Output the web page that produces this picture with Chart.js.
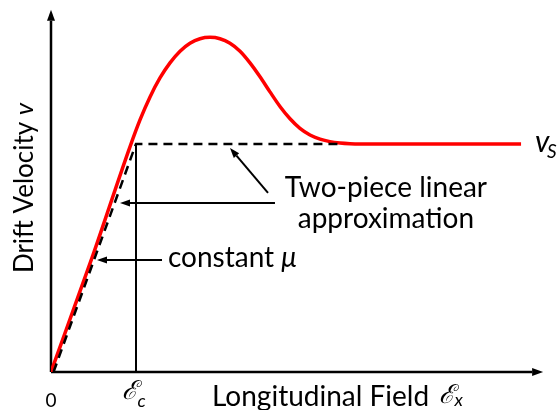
<!DOCTYPE html>
<html>
<head>
<meta charset="utf-8">
<script src="https://cdn.jsdelivr.net/npm/chart.js@4/dist/chart.umd.min.js"></script>
<style>
  body { margin: 0; background: #fff; }
  #drift-chart { display: block; }
</style>
</head>
<body>
<canvas id="drift-chart" width="560" height="410"></canvas>
<script>
// Field axis in units of the critical field Ec, velocity in units of vs
const curveField = [0, 0.482, 0.929, 1.047, 1.165, 1.282, 1.4, 1.518, 1.635, 1.753, 1.871, 1.988, 2.106, 2.224, 2.341, 2.459, 2.576, 2.694, 2.812, 2.929, 3.047, 3.165, 3.282, 3.4, 3.518, 3.635, 5.53];
const curveVelocity = [0, 0.5, 0.987, 1.105, 1.206, 1.289, 1.355, 1.406, 1.441, 1.461, 1.467, 1.461, 1.441, 1.406, 1.355, 1.294, 1.228, 1.164, 1.11, 1.068, 1.039, 1.021, 1.01, 1.004, 1.001, 1.0, 1.0];

// Two-piece linear approximation: mobility line up to Ec, then saturation
const approxField = [0.03, 1, 3.4];
const approxVelocity = [0, 1, 1];

// Marker at the critical field
const criticalField = [1, 1];
const criticalVelocity = [0, 1];

// Axis extents (arrow tips)
const fieldMax = 5.8;
const velocityMax = 1.6;
const xArrowTip = 5.79;
const yArrowTip = 1.588;

// Callout arrows: [fromX, fromY, toX, toY]
const callouts = [
  [2.553, 0.785, 2.106, 0.982],
  [2.635, 0.741, 0.812, 0.741],
  [1.306, 0.491, 0.541, 0.491],
];

const toPoints = (xs, ys) => xs.map((x, i) => ({ x: x, y: ys[i] }));

function drawArrow(ctx, x1, y1, x2, y2, len, half) {
  const a = Math.atan2(y2 - y1, x2 - x1);
  const bx = x2 - len * Math.cos(a);
  const by = y2 - len * Math.sin(a);
  ctx.beginPath();
  ctx.moveTo(x1, y1);
  ctx.lineTo(bx, by);
  ctx.stroke();
  ctx.beginPath();
  ctx.moveTo(x2, y2);
  ctx.lineTo(bx + half * Math.sin(a), by - half * Math.cos(a));
  ctx.lineTo(bx - half * Math.sin(a), by + half * Math.cos(a));
  ctx.closePath();
  ctx.fill();
}

// Draws the arrowed axes underneath the curves
const axesPlugin = {
  id: "arrowAxes",
  beforeDatasetsDraw(chart) {
    const ctx = chart.ctx;
    const xs = chart.scales.x;
    const ys = chart.scales.y;
    const x0 = xs.getPixelForValue(0);
    const y0 = ys.getPixelForValue(0);
    ctx.save();
    ctx.strokeStyle = "#000";
    ctx.fillStyle = "#000";
    ctx.lineWidth = 2.5;
    drawArrow(ctx, x0, y0, xs.getPixelForValue(xArrowTip), y0, 11, 4);
    drawArrow(ctx, x0, y0, x0, ys.getPixelForValue(yArrowTip), 11, 4);
    ctx.restore();
  },
};

// Callouts and all text labels
const labelPlugin = {
  id: "labels",
  afterDatasetsDraw(chart) {
    const ctx = chart.ctx;
    const xs = chart.scales.x;
    const ys = chart.scales.y;
    const px = (v) => xs.getPixelForValue(v);
    const py = (v) => ys.getPixelForValue(v);
    const sans = '"Lato", "Open Sans", sans-serif';
    const script = '"DejaVu Serif", serif';

    ctx.save();
    ctx.strokeStyle = "#000";
    ctx.fillStyle = "#000";
    ctx.lineWidth = 2;
    callouts.forEach((c) => {
      drawArrow(ctx, px(c[0]), py(c[1]), px(c[2]), py(c[3]), 10, 3.5);
    });

    ctx.fillStyle = "#000";
    ctx.textBaseline = "alphabetic";

    // callout text
    ctx.font = "28px " + sans;
    ctx.textAlign = "center";
    ctx.fillText("Two-piece linear", px(3.94), py(0.768));
    ctx.fillText("approximation", px(3.94), py(0.632));

    ctx.textAlign = "left";
    ctx.font = "28px " + sans;
    const cx = px(1.376);
    const cy = py(0.461);
    ctx.fillText("constant ", cx, cy);
    const cw = ctx.measureText("constant ").width;
    ctx.font = "italic 28px " + sans;
    ctx.fillText("\u03bc", cx + cw, cy);

    // saturation velocity
    ctx.font = "italic 30px " + sans;
    ctx.fillText("v", px(5.694), py(0.965));
    ctx.font = "italic 19px " + sans;
    ctx.fillText("S", px(5.694) + 12, py(0.965) + 6);

    // x axis labels
    ctx.font = "28px " + sans;
    ctx.fillText("Longitudinal Field", px(1.894), py(-0.149));
    ctx.font = "italic 26px " + script;
    ctx.fillText("\u2130", px(4.56), py(-0.135));
    ctx.font = "italic 18px " + sans;
    ctx.fillText("x", px(4.56) + 16, py(-0.15));

    ctx.font = "italic 26px " + script;
    ctx.fillText("\u2130", px(0.83), py(-0.118));
    ctx.font = "italic 18px " + sans;
    ctx.fillText("c", px(0.83) + 16, py(-0.154));

    ctx.textAlign = "center";
    ctx.font = "19px " + sans;
    ctx.fillText("0", px(0), py(-0.154));

    // y axis label, rotated
    ctx.save();
    ctx.translate(px(-0.212), py(0.807));
    ctx.rotate(-Math.PI / 2);
    const main = "Drift Velocity ";
    ctx.font = "26px " + sans;
    const mw = ctx.measureText(main).width;
    ctx.font = "italic 26px " + sans;
    const vw = ctx.measureText("v").width;
    const start = -(mw + vw) / 2;
    ctx.textAlign = "left";
    ctx.font = "26px " + sans;
    ctx.fillText(main, start, 0);
    ctx.font = "italic 26px " + sans;
    ctx.fillText("v", start + mw, 0);
    ctx.restore();

    ctx.restore();
  },
};

new Chart(document.getElementById("drift-chart"), {
  type: "line",
  data: {
    datasets: [
      {
        label: "Drift velocity",
        data: toPoints(curveField, curveVelocity),
        borderColor: "#ff0000",
        borderWidth: 3.5,
        pointRadius: 0,
        cubicInterpolationMode: "monotone",
        fill: false,
        order: 2,
      },
      {
        label: "Two-piece linear approximation",
        data: toPoints(approxField, approxVelocity),
        borderColor: "#000",
        borderWidth: 2.5,
        borderDash: [9, 6],
        pointRadius: 0,
        tension: 0,
        fill: false,
        order: 1,
      },
      {
        label: "Critical field",
        data: toPoints(criticalField, criticalVelocity),
        borderColor: "#000",
        borderWidth: 2,
        pointRadius: 0,
        tension: 0,
        fill: false,
        order: 3,
      },
    ],
  },
  options: {
    responsive: false,
    animation: false,
    layout: { padding: { left: 51, right: 16, top: 7, bottom: 38 } },
    scales: {
      x: { type: "linear", min: 0, max: fieldMax, display: false },
      y: { type: "linear", min: 0, max: velocityMax, display: false },
    },
    plugins: {
      legend: { display: false },
      tooltip: { enabled: false },
    },
  },
  plugins: [axesPlugin, labelPlugin],
});
</script>
</body>
</html>
